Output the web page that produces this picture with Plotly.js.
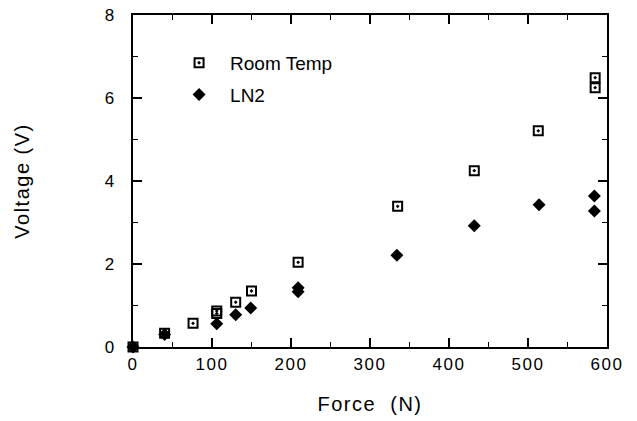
<!DOCTYPE html>
<html><head><meta charset="utf-8">
<script src="https://cdn.plot.ly/plotly-3.0.1.min.js"></script>
<style>body{margin:0;background:#fff}
.xtick text, .ytick text, .g-xtitle text, .g-ytitle text{letter-spacing:1.5px}</style>
</head><body><div id="chart" style="width:637px;height:421px"></div>
<script>
const roomForce   = [0, 40, 76, 106, 106, 130, 150, 209, 335, 432, 513, 585, 585];
const roomVoltage = [0, 0.33, 0.57, 0.81, 0.87, 1.08, 1.35, 2.04, 3.39, 4.25, 5.21, 6.49, 6.25];
const ln2Force    = [0, 40, 106, 130, 149, 209, 209, 334, 432, 514, 584, 584];
const ln2Voltage  = [0, 0.3, 0.56, 0.78, 0.94, 1.43, 1.33, 2.21, 2.92, 3.43, 3.64, 3.28];
const seriesNames = ['Room Temp', 'LN2'];
const xTicks = [0, 100, 200, 300, 400, 500, 600];
const yTicks = [0, 2, 4, 6, 8];

const traces = [
  {x: roomForce, y: roomVoltage, name: seriesNames[0], type: 'scatter', mode: 'markers',
   legendgroup: 'a', cliponaxis: false,
   marker: {symbol: 'square-open-dot', size: 9, color: 'black', line: {color: 'black', width: 2}}},
  {x: ln2Force, y: ln2Voltage, name: seriesNames[1], type: 'scatter', mode: 'markers',
   legendgroup: 'b', cliponaxis: false,
   marker: {symbol: 'diamond', size: 10, color: 'black'}}
];

const axisCommon = {
  showline: true, linewidth: 2, linecolor: 'black', mirror: 'ticks',
  ticks: 'inside', ticklen: 9, tickwidth: 1.5, tickcolor: 'black',
  showgrid: false, zeroline: false, tickfont: {size: 17}
};

const layout = {
  width: 637, height: 421,
  margin: {l: 133, r: 30, t: 15, b: 74},
  paper_bgcolor: 'white', plot_bgcolor: 'white',
  font: {family: 'Liberation Sans, Arial, sans-serif', size: 17, color: 'black'},
  showlegend: true,
  legend: {x: 0.074, y: 0.913, xanchor: 'left', yanchor: 'top', bgcolor: 'rgba(0,0,0,0)',
           font: {size: 19}, tracegroupgap: 4, traceorder: 'grouped', itemwidth: 52},
  xaxis: Object.assign({}, axisCommon, {
    range: [0, 600], tickvals: xTicks,
    minor: {dtick: 50, ticks: 'inside', ticklen: 5, tickwidth: 1.5, tickcolor: 'black'},
    ticklabelstandoff: 1,
    title: {text: 'Force\u00a0 (N)', font: {size: 20}, standoff: 24}
  }),
  yaxis: Object.assign({}, axisCommon, {
    range: [0, 8], tickvals: yTicks,
    minor: {dtick: 1, ticks: 'inside', ticklen: 5, tickwidth: 1.5, tickcolor: 'black'},
    ticklabelstandoff: 12,
    title: {text: 'Voltage (V)', font: {size: 20}, standoff: 70}
  })
};

Plotly.newPlot('chart', traces, layout, {displayModeBar: false, staticPlot: true});
</script></body></html>
